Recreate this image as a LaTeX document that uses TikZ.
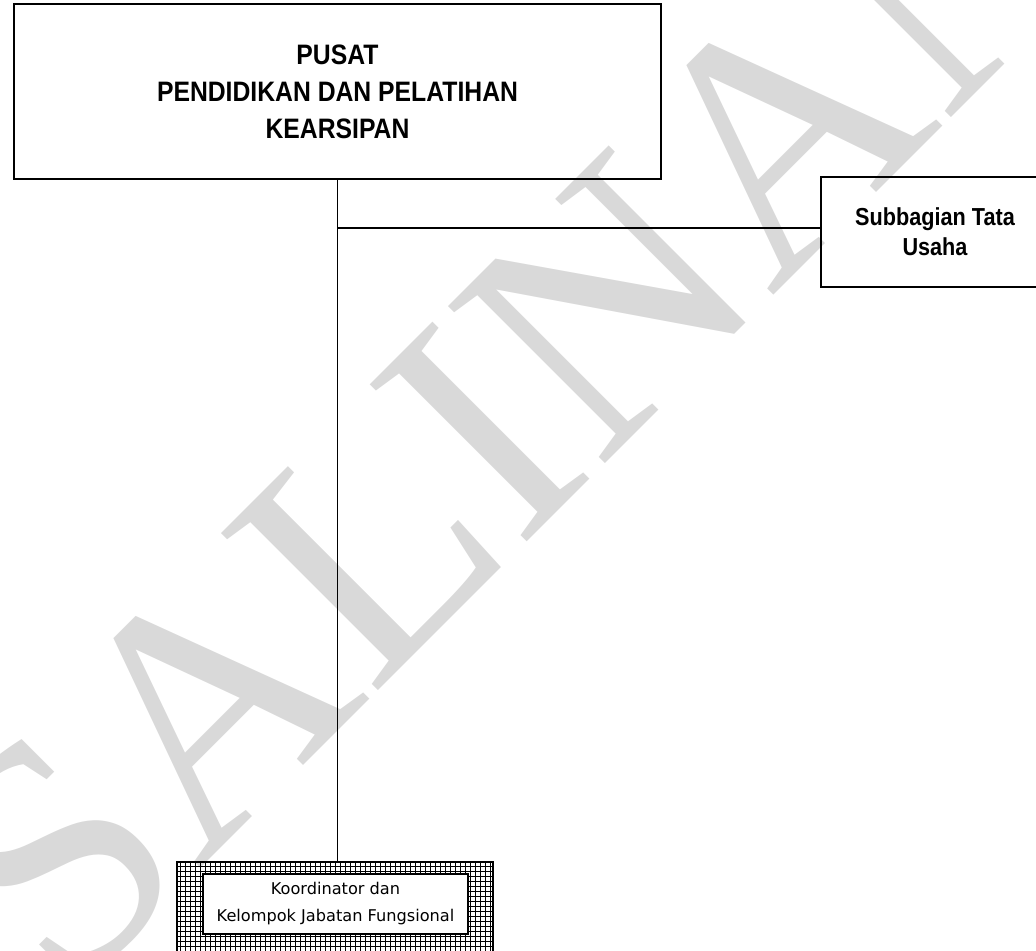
\documentclass[tikz,border=0pt]{standalone}
\usepackage{fontspec}
\setmainfont{Liberation Sans}
\newfontfamily\judulfont{Liberation Sans}[FakeStretch=0.88]
\newfontfamily\kecilfont{DejaVu Sans}
\newfontfamily\capfont{Liberation Serif}

\tikzset{
  kotak/.style={draw, line width=0.9pt, align=center},
  garis/.style={line width=0.8pt},
}

\begin{document}
\begin{tikzpicture}[x=0.02cm, y=-0.02cm]
        \useasboundingbox (0,0) rectangle (1036,951);
        % cap salinan
        \node [anchor=base west, rotate=45, inner sep=0, text=black!15, font=\capfont\fontsize{193}{193}\selectfont] (salinan) at (65,1004) {SALINAN};
        % kotak
        \node [kotak, minimum width=12.94cm, minimum height=3.5cm, font=\judulfont\bfseries\fontsize{16}{21}\selectfont] (pusat) at (337.5,91.5) {PUSAT\\PENDIDIKAN DAN PELATIHAN\\KEARSIPAN};
        \node [kotak, minimum width=4.56cm, minimum height=2.2cm, font=\judulfont\bfseries\fontsize{14}{17}\selectfont] (tu) at (935,232) {Subbagian Tata\\Usaha};
        \node [draw, line width=1.2pt, minimum width=6.32cm, minimum height=1.96cm, path picture={\draw [line width=0.42pt, step=0.1cm] (path picture bounding box.south west) grid (path picture bounding box.north east);}] (jfluar) at (335,911) {};
        \node [kotak, fill=white, line width=1.2pt, minimum width=5.3cm, minimum height=1.2cm, font=\kecilfont\fontsize{9.2}{15.4}\selectfont] (jf) at (335.5,904) {Koordinator dan\\Kelompok Jabatan Fungsional};
        % garis
        \coordinate (cabang) at (337,228);
        \draw [garis] (pusat.south) -- (pusat.south |- jfluar.north);
        \draw [garis] (cabang) -- (cabang -| tu.west);
\end{tikzpicture}
\end{document}
